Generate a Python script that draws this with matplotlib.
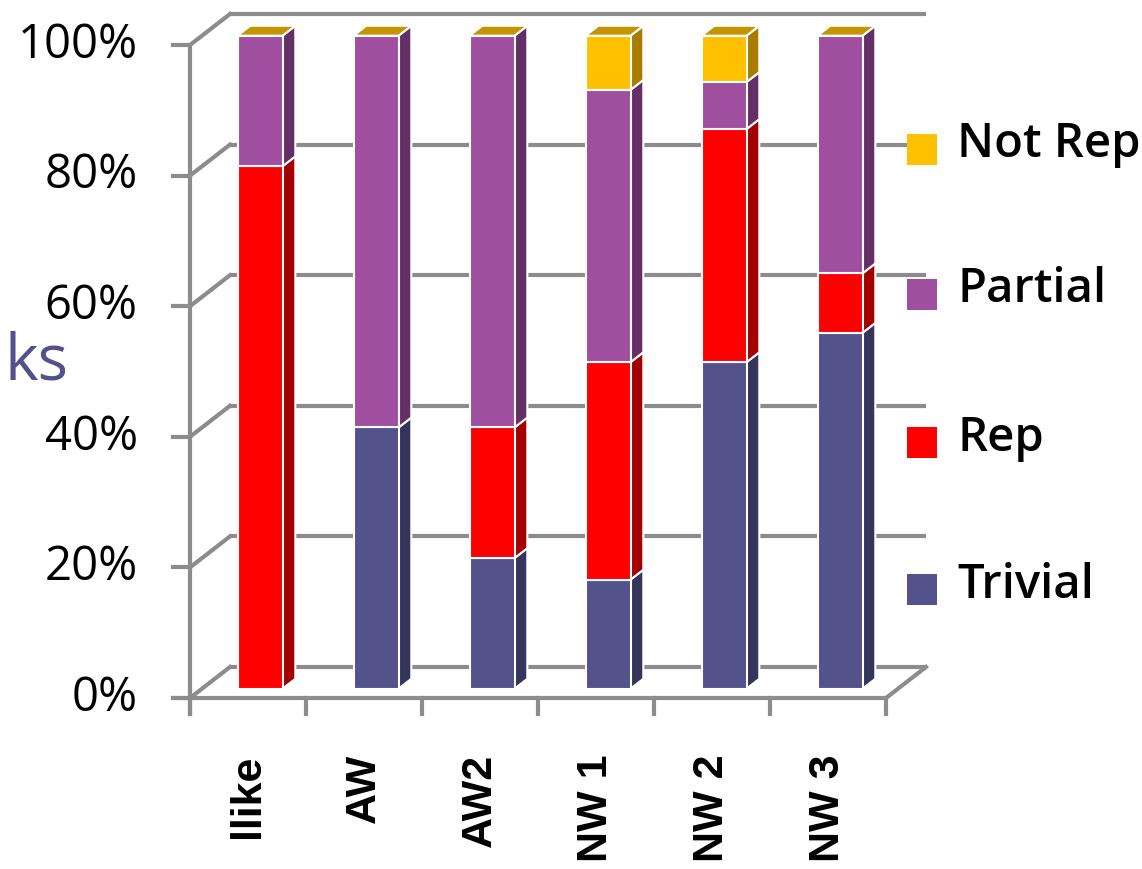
import matplotlib
matplotlib.use("Agg")
import matplotlib.pyplot as plt
from matplotlib.patches import Polygon, Rectangle

# stacked shares (%) per configuration, bottom to top
categories = ["llike", "AW", "AW2", "NW 1", "NW 2", "NW 3"]
trivial = [0.0, 40.0, 20.0, 16.7, 50.0, 54.5]
rep = [80.0, 0.0, 20.0, 33.3, 35.7, 9.1]
partial = [20.0, 60.0, 60.0, 41.7, 7.2, 36.4]
not_rep = [0.0, 0.0, 0.0, 8.3, 7.1, 0.0]
yticks = [0, 20, 40, 60, 80, 100]

series = [
    ("Trivial", trivial, "#53528A", "#35345A"),
    ("Rep", rep, "#FF0000", "#A40000"),
    ("Partial", partial, "#A04EA0", "#642E66"),
    ("Not Rep", not_rep, "#FFC000", "#A87C00"),
]
TOP_COLOR = "#C49500"
GRID = "#8C8C8C"

# oblique projection for the fake 3d look (data units)
DX, DY = 0.345, 4.75       # full wall depth
FRONT, BACK = 0.30, 0.62   # bar depth range, fraction of wall depth
BAR_W = 0.388


def proj(x, y, d):
    return (x + d * DX, y + d * DY)


fig = plt.figure(figsize=(11.42, 8.69), dpi=100)
ax = fig.add_axes([190 / 1142, 171 / 869, 696 / 1142, 653 / 869])
ax.set_xlim(0, 6)
ax.set_ylim(0, 100)
ax.axis("off")

n = len(categories)
lw = 3

# back wall gridlines and left wall diagonals
for v in yticks:
    x0, y0 = proj(0, v, 1)
    x1, y1 = proj(n, v, 1)
    ax.plot([x0, x1], [y0, y1], color=GRID, lw=lw, clip_on=False, zorder=1,
            solid_capstyle="butt")
    ax.plot([0, x0], [v, y0], color=GRID, lw=lw, clip_on=False, zorder=1)
    ax.plot([-0.147, 0], [v, v], color=GRID, lw=lw, clip_on=False, zorder=1)
    ax.text(-0.45, v, f"{v}%", ha="right", va="center", fontsize=34,
            family=["Open Sans", "DejaVu Sans"], color="black", clip_on=False)

# floor edges and axes
ax.plot([-0.147, n], [0, 0], color=GRID, lw=lw, clip_on=False, zorder=1)
xr, yr = proj(n, 0, 1)
ax.plot([n, xr], [0, yr], color=GRID, lw=lw, clip_on=False, zorder=1)
ax.plot([0, 0], [-2.45, 100], color=GRID, lw=lw, clip_on=False, zorder=1)
for i in range(n + 1):
    ax.plot([i, i], [0, -2.45], color=GRID, lw=lw, clip_on=False, zorder=1)

# stacked 3d bars
for i, cat in enumerate(categories):
    left = i + 0.5 - BAR_W / 2
    right = left + BAR_W
    base = 0.0
    for name, vals, face, side in series:
        h = vals[i]
        top = base + h
        if h > 0:
            front_pts = [proj(left, base, FRONT), proj(right, base, FRONT),
                         proj(right, top, FRONT), proj(left, top, FRONT)]
            side_pts = [proj(right, base, FRONT), proj(right, base, BACK),
                        proj(right, top, BACK), proj(right, top, FRONT)]
            ax.add_patch(Polygon(side_pts, closed=True, facecolor=side,
                                 edgecolor="white", lw=1.5, zorder=3,
                                 clip_on=False))
            ax.add_patch(Polygon(front_pts, closed=True, facecolor=face,
                                 edgecolor="white", lw=1.5, zorder=4,
                                 clip_on=False))
        base = top
    top_pts = [proj(left, base, FRONT), proj(right, base, FRONT),
               proj(right, base, BACK), proj(left, base, BACK)]
    ax.add_patch(Polygon(top_pts, closed=True, facecolor=TOP_COLOR,
                         edgecolor="white", lw=1.5, zorder=4, clip_on=False))
    ax.text(i + 0.5, -8.6, cat, rotation=90, ha="center", va="top",
            fontsize=31, fontweight="bold",
            family=["Liberation Sans", "DejaVu Sans"],
            color="black", clip_on=False)

# legend, top entry first
leg_y = [150, 295, 443, 590]
for (name, vals, face, side), py in zip(series[::-1], leg_y):
    fig.patches.append(Rectangle((907 / 1142, (869 - py - 15) / 869),
                                 30 / 1142, 31 / 869, facecolor=face,
                                 edgecolor="none", transform=fig.transFigure))
    fig.text(957 / 1142, (869 - py + 5) / 869, name, ha="left", va="center",
             fontsize=34, fontweight="semibold",
             family=["Open Sans", "DejaVu Sans"], color="black")

fig.text(4 / 1142, (869 - 363) / 869, "ks", ha="left", va="center",
         fontsize=46, color="#52528A", family=["Open Sans", "DejaVu Sans"])

fig.savefig("out.png", dpi=100)
